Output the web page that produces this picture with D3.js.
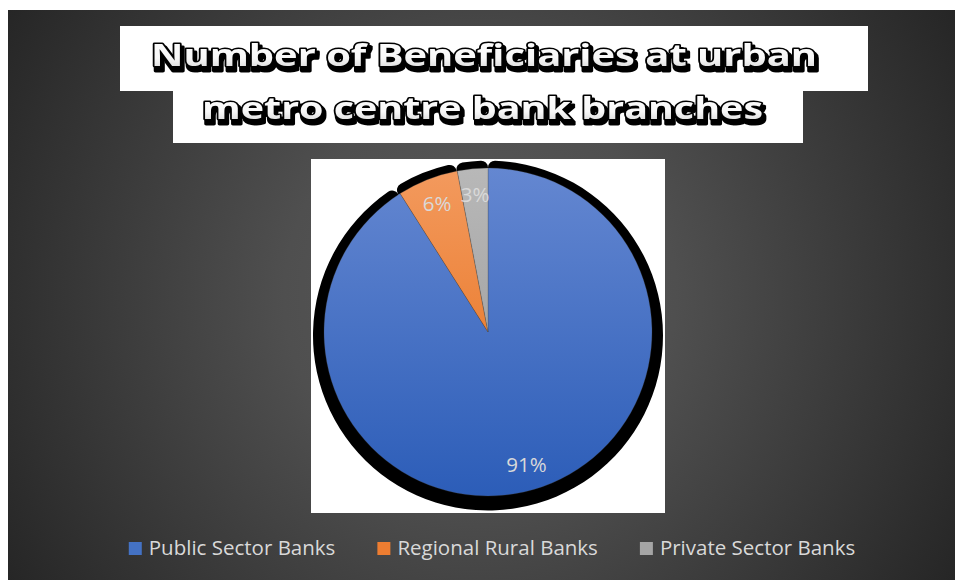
<!DOCTYPE html>
<html>
<head>
<meta charset="utf-8">
<script src="https://cdn.jsdelivr.net/npm/d3@7"></script>
<style>
  html, body { margin: 0; padding: 0; background: #ffffff; }
  svg { display: block; }
</style>
</head>
<body>
<svg id="chart" width="955" height="580"></svg>
<script>
// ---- data ----
const categories = ["Public Sector Banks", "Regional Rural Banks", "Private Sector Banks"];
const shares = [91, 6, 3];
const sliceLabels = ["91%", "6%", "3%"];
const titleLines = ["Number of Beneficiaries at urban", "metro centre bank branches"];

// ---- styles ----
const sliceTop = ["#6487d1", "#f39a5e", "#b8b8b8"];
const sliceBottom = ["#2c5db8", "#e56a12", "#959595"];
const legendSwatch = ["#4472c4", "#ed7d31", "#a5a5a5"];
const bodyFont = "'Open Sans', 'Noto Sans', sans-serif";

const svg = d3.select("#chart");
const defs = svg.append("defs");

// chart area background: radial shading, lighter in the middle
const bg = defs.append("radialGradient")
  .attr("id", "bgGrad")
  .attr("gradientUnits", "userSpaceOnUse")
  .attr("cx", 480).attr("cy", 295).attr("r", 560);
bg.append("stop").attr("offset", 0).attr("stop-color", "#5a5a5a");
bg.append("stop").attr("offset", 0.35).attr("stop-color", "#4f4f4f");
bg.append("stop").attr("offset", 1).attr("stop-color", "#252525");

svg.append("rect")
  .attr("x", 8).attr("y", 10)
  .attr("width", 947).attr("height", 570)
  .attr("fill", "url(#bgGrad)");

// ---- title: two white boxes with outlined, shadowed lettering ----
svg.append("rect").attr("x", 120).attr("y", 26).attr("width", 748).attr("height", 65).attr("fill", "#ffffff");
svg.append("rect").attr("x", 173).attr("y", 90).attr("width", 630).attr("height", 53).attr("fill", "#ffffff");

const tg = defs.append("linearGradient")
  .attr("id", "titleFill")
  .attr("x1", 0).attr("y1", 0).attr("x2", 0).attr("y2", 1);
tg.append("stop").attr("offset", 0).attr("stop-color", "#ffffff");
tg.append("stop").attr("offset", 0.6).attr("stop-color", "#f8f8f8");
tg.append("stop").attr("offset", 1).attr("stop-color", "#c9c9c9");

// hard black drop shadow behind the title lettering
const shadowF = defs.append("filter")
  .attr("id", "titleShadow")
  .attr("x", "-5%").attr("y", "-30%").attr("width", "110%").attr("height", "170%");
shadowF.append("feMorphology").attr("in", "SourceAlpha").attr("operator", "dilate").attr("radius", 1.2).attr("result", "fat");
shadowF.append("feOffset").attr("in", "fat").attr("dx", 2).attr("dy", 4).attr("result", "off");
shadowF.append("feFlood").attr("flood-color", "#000").attr("result", "blk");
shadowF.append("feComposite").attr("in", "blk").attr("in2", "off").attr("operator", "in").attr("result", "shadow");
const fm = shadowF.append("feMerge");
fm.append("feMergeNode").attr("in", "shadow");
fm.append("feMergeNode").attr("in", "SourceGraphic");

const titleSpecs = [
  { x: 151, y: 65.5, w: 666 },
  { x: 202, y: 119, w: 561 }
];

const titleG = svg.append("g")
  .attr("font-family", "'Open Sans', 'DejaVu Sans', sans-serif")
  .attr("font-weight", 700)
  .attr("font-size", 30)
  .attr("filter", "url(#titleShadow)");

titleLines.forEach((line, i) => {
  const s = titleSpecs[i];
  titleG.append("text")
    .attr("x", s.x).attr("y", s.y)
    .attr("textLength", s.w).attr("lengthAdjust", "spacingAndGlyphs")
    .attr("fill", "url(#titleFill)").attr("stroke", "#000").attr("stroke-width", 2.8)
    .attr("stroke-linejoin", "round")
    .attr("paint-order", "stroke")
    .text(line);
});

// ---- plot area ----
svg.append("rect").attr("x", 311).attr("y", 159).attr("width", 354).attr("height", 354).attr("fill", "#ffffff");

const cx = 488, cy = 332, radius = 164;
const pie = d3.pie().sort(null).value(d => d);
const arcs = pie(shares);

// slice shadows (enlarged, shifted down, soft corners)
const shadowArc = d3.arc().innerRadius(0).outerRadius(175).cornerRadius(7);
svg.append("g")
  .attr("transform", `translate(${cx},${cy + 3.5})`)
  .selectAll("path")
  .data(arcs)
  .join("path")
  .attr("d", shadowArc)
  .attr("fill", "#000");

// vertical shading per slice
shares.forEach((_, i) => {
  const g = defs.append("linearGradient")
    .attr("id", "slice" + i)
    .attr("gradientUnits", "userSpaceOnUse")
    .attr("x1", 0).attr("y1", -radius).attr("x2", 0).attr("y2", radius);
  g.append("stop").attr("offset", 0).attr("stop-color", sliceTop[i]);
  g.append("stop").attr("offset", 1).attr("stop-color", sliceBottom[i]);
});

const arc = d3.arc().innerRadius(0).outerRadius(radius);
const pieG = svg.append("g").attr("transform", `translate(${cx},${cy})`);
pieG.selectAll("path.slice")
  .data(arcs)
  .join("path")
  .attr("class", "slice")
  .attr("d", arc)
  .attr("fill", (d, i) => `url(#slice${i})`)
  .attr("stroke", "rgba(70,70,70,0.45)")
  .attr("stroke-width", 0.6);

// value labels inside the slices
const labelArc = d3.arc().innerRadius(138).outerRadius(138);
pieG.selectAll("text.val")
  .data(arcs)
  .join("text")
  .attr("class", "val")
  .attr("transform", d => `translate(${labelArc.centroid(d)})`)
  .attr("text-anchor", "middle")
  .attr("dy", "0.36em")
  .attr("font-family", bodyFont)
  .attr("font-size", 20.5)
  .attr("fill", "#d9d9d9")
  .text((d, i) => sliceLabels[i]);

// ---- legend ----
const legendG = svg.append("g")
  .attr("font-family", bodyFont)
  .attr("font-size", 20.5)
  .attr("fill", "#d9d9d9");

const sw = 13, swGap = 7, itemGap = 42, legendCenter = 492, baseY = 555;
const items = categories.map((c, i) => {
  const g = legendG.append("g");
  g.append("rect").attr("width", sw).attr("height", sw).attr("y", baseY - 13).attr("fill", legendSwatch[i]);
  const t = g.append("text").attr("x", sw + swGap).attr("y", baseY).text(c);
  return { g, w: sw + swGap + t.node().getComputedTextLength() };
});
const total = d3.sum(items, d => d.w) + itemGap * (items.length - 1);
let xPos = legendCenter - total / 2;
items.forEach(it => {
  it.g.attr("transform", `translate(${xPos},0)`);
  xPos += it.w + itemGap;
});
</script>
</body>
</html>
